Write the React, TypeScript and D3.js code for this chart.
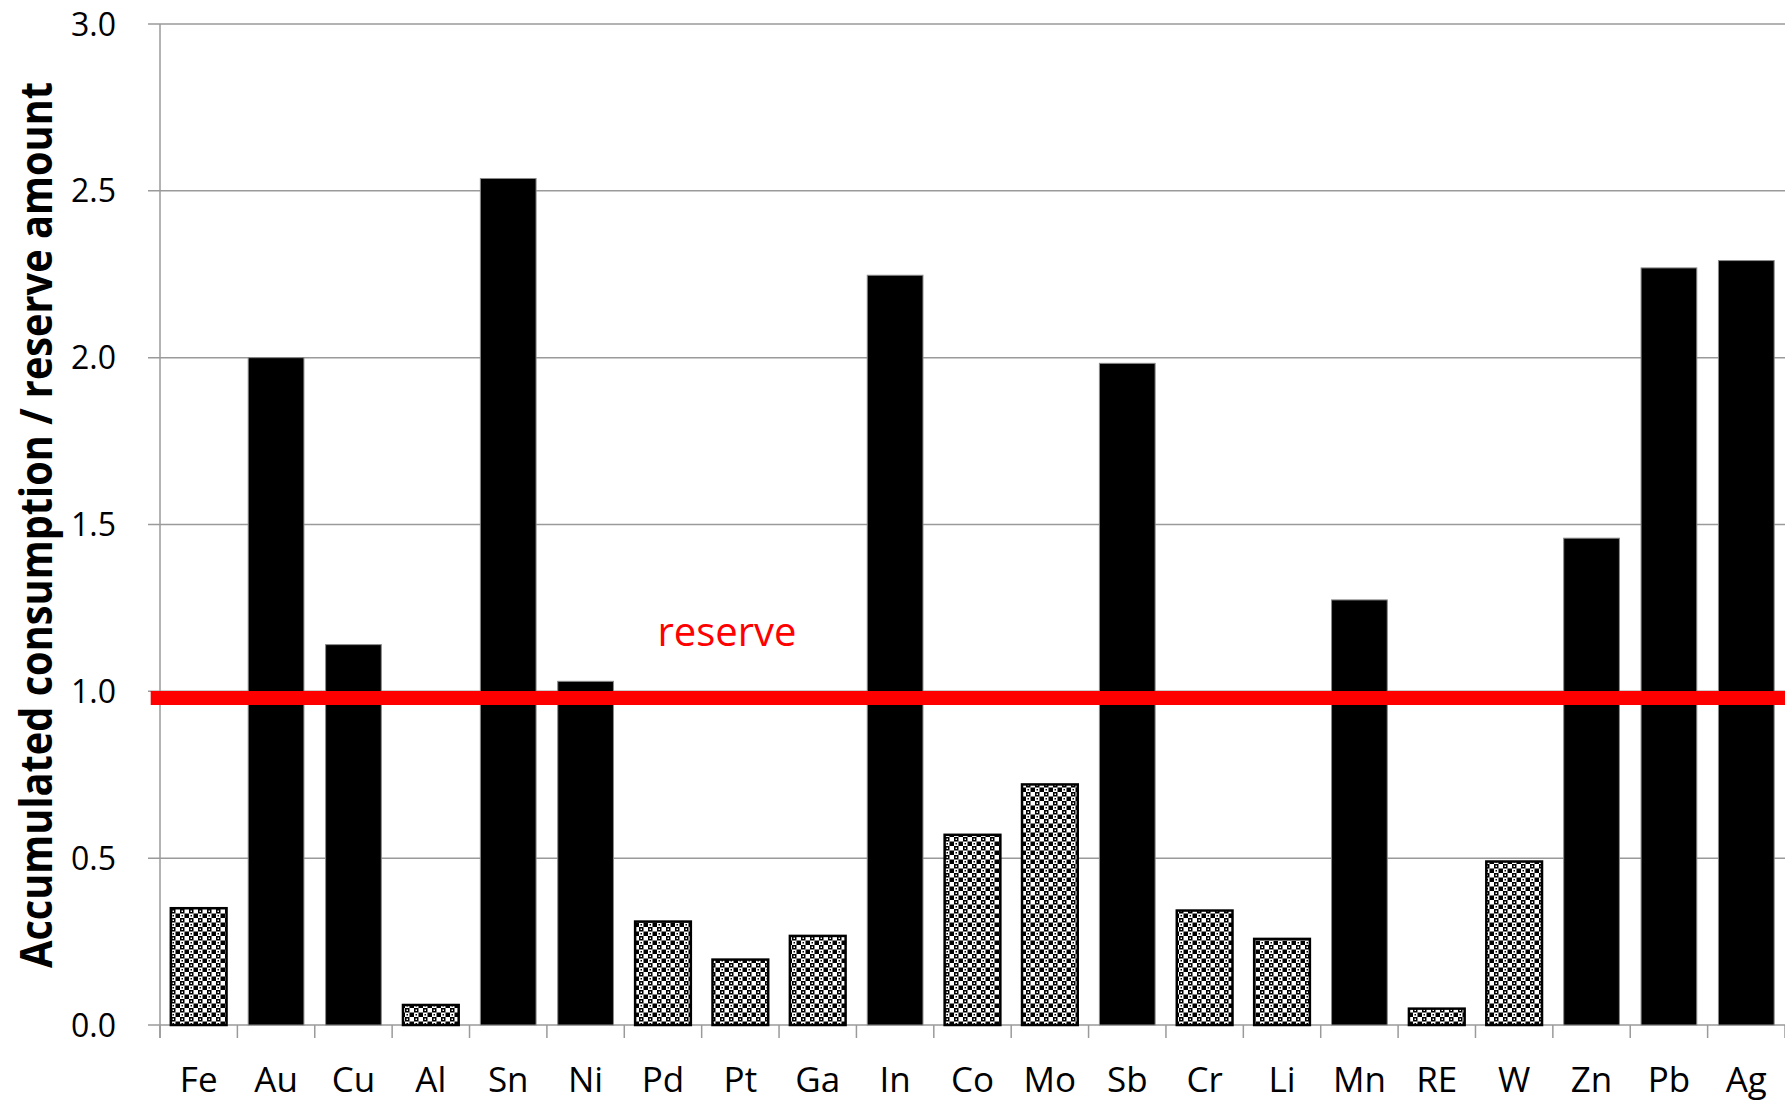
import React from "react";
import * as d3 from "d3";

// Metals and their accumulated consumption relative to reserves
const metals = ["Fe", "Au", "Cu", "Al", "Sn", "Ni", "Pd", "Pt", "Ga", "In", "Co", "Mo", "Sb", "Cr", "Li", "Mn", "RE", "W", "Zn", "Pb", "Ag"];
const ratios = [0.35, 2.0, 1.14, 0.06, 2.537, 1.03, 0.31, 0.196, 0.267, 2.247, 0.57, 0.721, 1.983, 0.343, 0.258, 1.274, 0.049, 0.49, 1.459, 2.269, 2.291];
const yTicks = [0, 0.5, 1.0, 1.5, 2.0, 2.5, 3.0];
const reserveLevel = 0.98;
const reserveLabel = "reserve";
const yTitle = "Accumulated consumption / reserve amount";

const W = 1785;
const H = 1103;
const margin = { left: 160, right: 0, top: 24, bottom: 78 };
const FONT = "'Open Sans', 'Noto Sans', sans-serif";

// checker fill for bars below the reserve line
const CELL = 4.5;
const CELLS = 4;
const TILE = CELL * CELLS;

export default function App() {
  const x = d3
    .scaleBand<string>()
    .domain(metals)
    .range([margin.left, W - margin.right])
    .paddingInner(0.28)
    .paddingOuter(0.14);
  const y = d3.scaleLinear().domain([0, 3]).range([H - margin.bottom, margin.top]);
  const y0 = y(0);
  const step = x.step();
  const data = metals.map((m, i) => ({ m, v: ratios[i] }));
  const idx = d3.range(CELLS);
  const dot = 1.5;

  return (
    <svg
      width={W}
      height={H}
      style={{ position: "absolute", left: 0, top: 0, background: "#fff" }}
      fontFamily={FONT}
    >
      <defs>
        <pattern id="checker" width={TILE} height={TILE} patternUnits="userSpaceOnUse">
          <rect width={TILE} height={TILE} fill="#fff" />
          {idx.map((r) =>
            idx.map((c) =>
              (r + c) % 2 === 0 ? (
                <rect key={`b${r}${c}`} x={c * CELL} y={r * CELL} width={CELL} height={CELL} fill="#000" />
              ) : null
            )
          )}
          {idx.map((r) =>
            idx.map((c) => {
              const cx = c * CELL + (CELL - dot) / 2;
              const cy = r * CELL + (CELL - dot) / 2;
              if (r % 2 === 0 && (r + c) % 2 === 0)
                return <rect key={`w${r}${c}`} x={cx} y={cy} width={dot} height={dot} fill="#fff" />;
              if (r % 2 === 1 && (r + c) % 2 === 1)
                return <rect key={`d${r}${c}`} x={cx} y={cy} width={dot} height={dot} fill="#000" />;
              return null;
            })
          )}
        </pattern>
      </defs>

      {/* horizontal gridlines */}
      {yTicks.map((t) => (
        <line key={`g${t}`} x1={margin.left - 12} x2={W} y1={y(t)} y2={y(t)} stroke="#9a9a9a" strokeWidth={1.5} />
      ))}

      {/* y axis line */}
      <line x1={margin.left} x2={margin.left} y1={margin.top} y2={y0 + 13} stroke="#9a9a9a" strokeWidth={1.5} />

      {/* category ticks */}
      {d3.range(metals.length + 1).map((i) => {
        const xx = margin.left + i * step;
        return <line key={`ct${i}`} x1={xx} x2={xx} y1={y0} y2={y0 + 13} stroke="#9a9a9a" strokeWidth={1.5} />;
      })}

      {/* bars */}
      {data.map((d) => {
        const above = d.v > 1;
        return (
          <rect
            key={d.m}
            x={x(d.m)}
            y={y(d.v)}
            width={x.bandwidth()}
            height={y0 - y(d.v)}
            fill={above ? "#000" : "url(#checker)"}
            stroke={above ? "#8a8a8a" : "#000"}
            strokeWidth={above ? 1 : 2.5}
          />
        );
      })}

      {/* reserve line */}
      <line x1={150.7} x2={W} y1={y(reserveLevel)} y2={y(reserveLevel)} stroke="#ff0000" strokeWidth={14} />
      <text x={727} y={646} fill="#ff0000" fontSize={40} textAnchor="middle">
        {reserveLabel}
      </text>

      {/* y tick labels */}
      {yTicks.map((t) => (
        <text key={`yl${t}`} x={116} y={y(t)} dy="0.36em" textAnchor="end" fontSize={32} fill="#000">
          {t.toFixed(1)}
        </text>
      ))}

      {/* category labels */}
      {metals.map((m) => (
        <text key={`xl${m}`} x={(x(m) as number) + x.bandwidth() / 2} y={1092} textAnchor="middle" fontSize={35} fill="#000">
          {m}
        </text>
      ))}

      {/* y axis title */}
      <text
        transform={`translate(52, 525) rotate(-90)`}
        textAnchor="middle"
        fontSize={44}
        fontWeight="bold"
        fill="#000"
        textLength={886}
        lengthAdjust="spacingAndGlyphs"
      >
        {yTitle}
      </text>
    </svg>
  );
}
